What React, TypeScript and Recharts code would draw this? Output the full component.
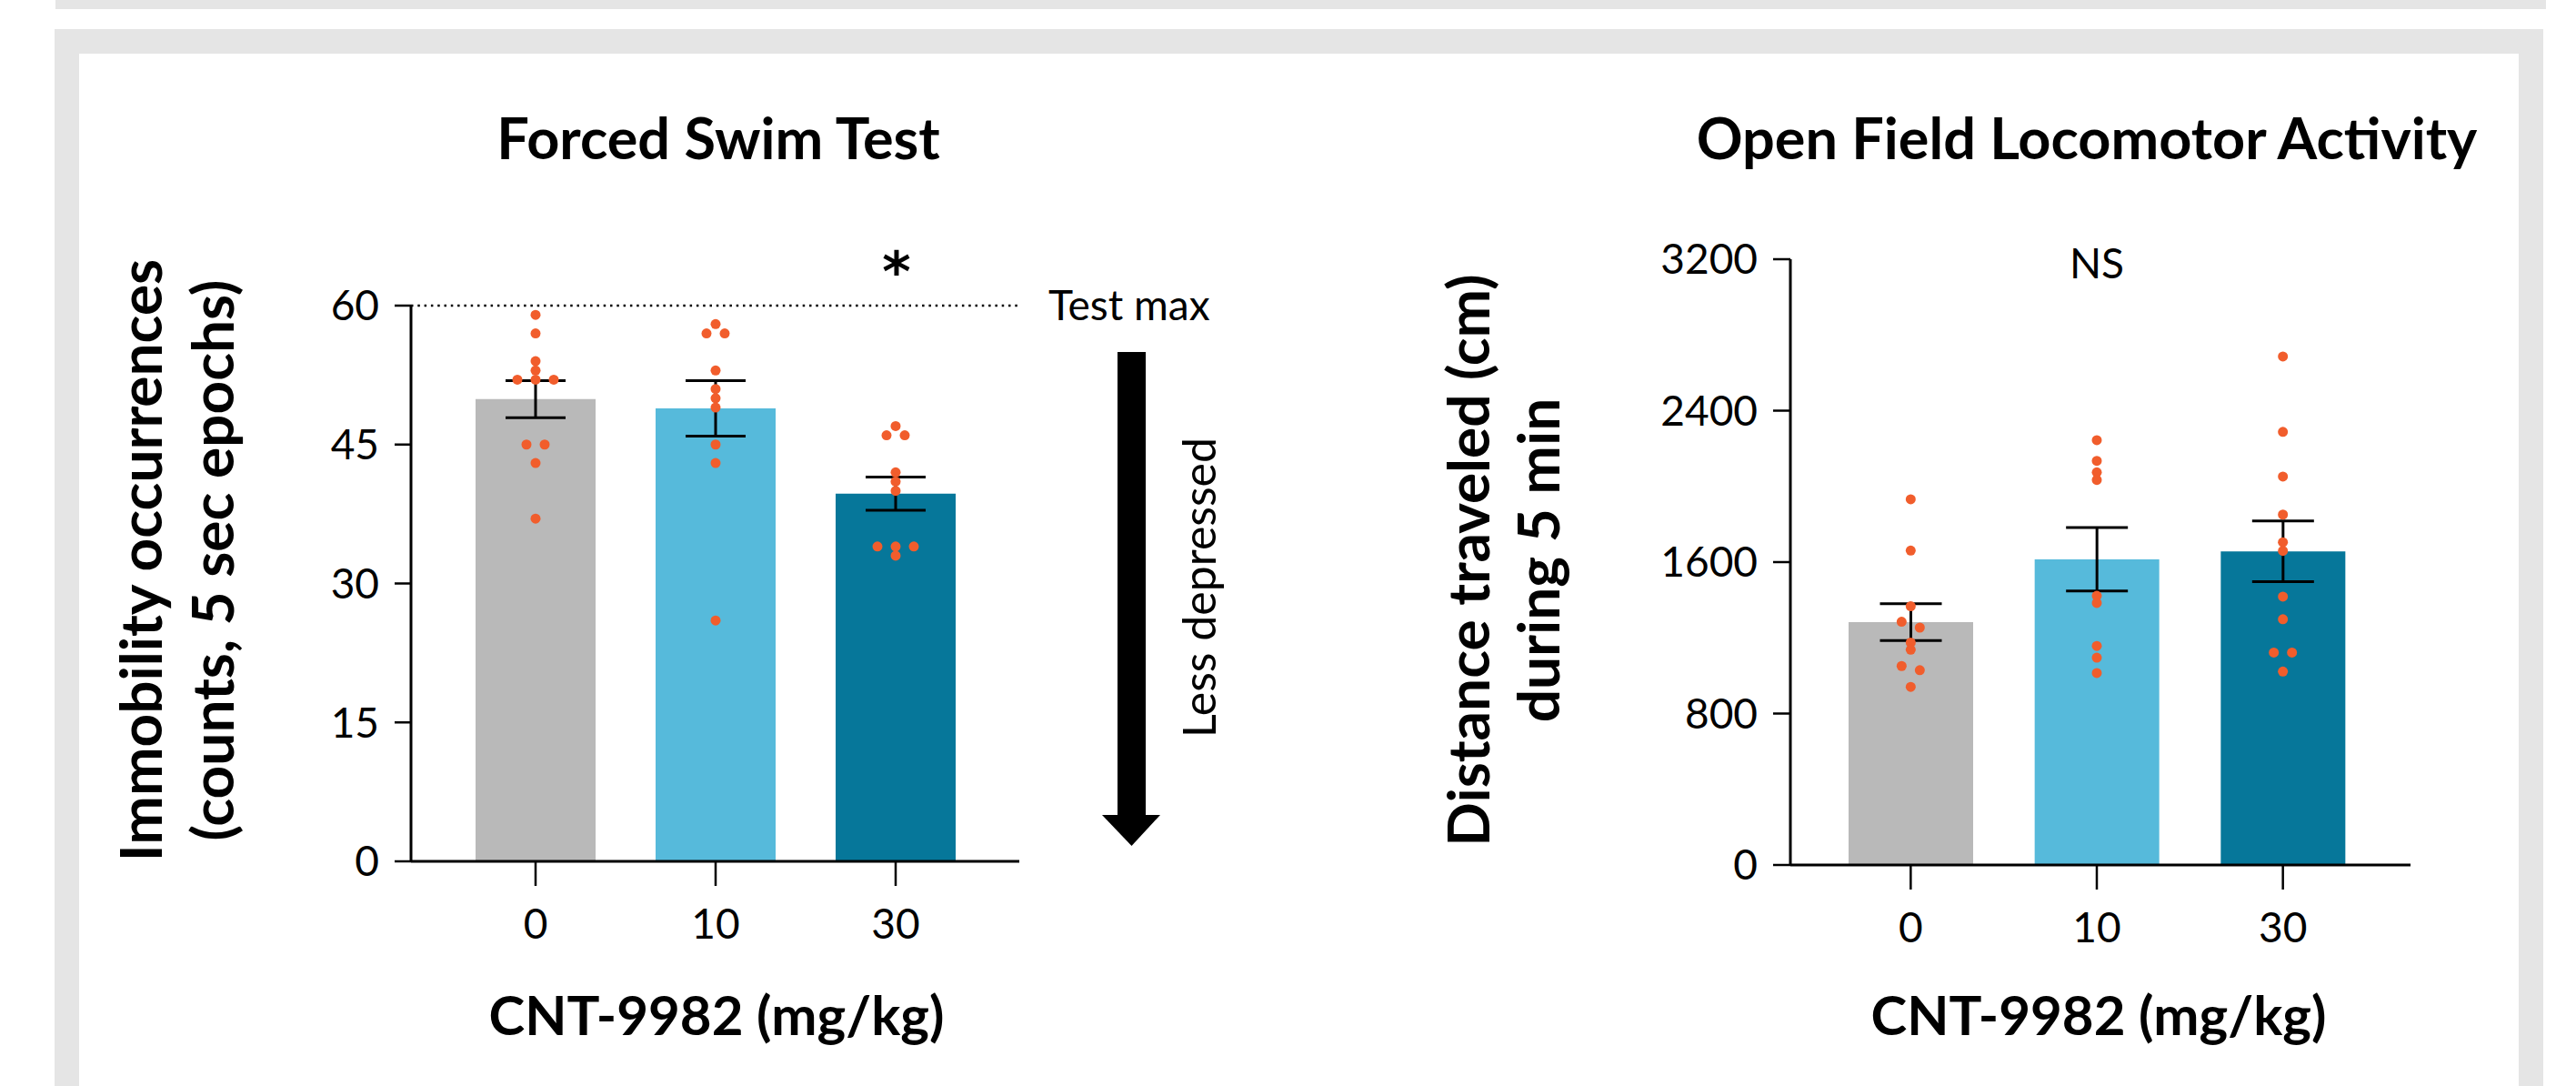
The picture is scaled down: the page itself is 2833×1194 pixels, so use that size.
import React from 'react';
import { ComposedChart, Bar, Cell, ErrorBar, Scatter, XAxis, YAxis, ReferenceLine } from 'recharts';

// dose groups (mg/kg)
const doses = ['0', '10', '30'];
const barColors = ['#B9B9B9', '#56BADB', '#06779A'];
const dotColor = '#F15D2C';

// Forced swim test: immobility counts
const fstMeans = [49.9, 48.9, 39.7];
const fstSem = [2.0, 3.0, 1.8];
const fstPoints = [
  [59, 57, 54, 53, 52, 52, 52, 45, 45, 43, 37],
  [58, 57, 57, 53, 51, 50, 49, 45, 43, 26],
  [47, 46, 46, 42, 41, 40, 34, 34, 34, 33],
];
const fstTicks = [0, 15, 30, 45, 60];

// Open field: distance traveled (cm)
const ofMeans = [1283, 1615, 1657];
const ofSem = [97, 167, 160];
const ofPoints = [
  [1932, 1661, 1367, 1285, 1254, 1175, 1137, 1051, 1029, 941],
  [2244, 2135, 2074, 2034, 1422, 1384, 1157, 1095, 1014],
  [2686, 2288, 2052, 1851, 1705, 1659, 1418, 1298, 1122, 1122, 1022],
];
const ofTicks = [0, 800, 1600, 2400, 3200];

const FONT = 'Lato, "Open Sans", sans-serif';
const DOT_STEP = 20;

function barRows(means: number[], sem: number[]) {
  return doses.map((d, i) => ({ dose: d, value: means[i], sem: sem[i] }));
}

// spread points that would overlap: values closer than `gap` share a row
function scatterRows(groups: number[][], gap: number) {
  const rows: { dose: string; value: number; slot: number }[] = [];
  groups.forEach((vals, g) => {
    const sorted = [...vals].sort((a, b) => b - a);
    let cluster: number[] = [];
    const flush = () => {
      cluster.forEach((v, k) => rows.push({ dose: doses[g], value: v, slot: k - (cluster.length - 1) / 2 }));
      cluster = [];
    };
    sorted.forEach((v) => {
      if (cluster.length && cluster[cluster.length - 1] - v >= gap) flush();
      cluster.push(v);
    });
    flush();
  });
  return rows;
}

const Dot = (p: any) => <circle cx={p.cx + p.payload.slot * DOT_STEP} cy={p.cy} r={5.5} fill={dotColor} />;

interface PanelProps {
  left: number;
  width: number;
  margin: { top: number; right: number; bottom: number; left: number };
  bars: { dose: string; value: number; sem: number }[];
  points: { dose: string; value: number; slot: number }[];
  domain: [number, number];
  ticks: number[];
  barSize: number;
  pad: { left: number; right: number };
  yTickSize: number;
  capHalf: number;
  refMax?: number;
}

function Panel(p: PanelProps) {
  const tickStyle = { fontSize: 46, fill: '#000', fontFamily: FONT };
  return (
    <div style={{ position: 'absolute', left: p.left, top: 0 }}>
      <ComposedChart width={p.width} height={1194} data={p.bars} margin={p.margin}>
        <XAxis
          dataKey="dose"
          type="category"
          allowDuplicatedCategory={false}
          padding={p.pad}
          height={100}
          tick={tickStyle}
          tickSize={27}
          tickMargin={25}
          axisLine={{ stroke: '#000', strokeWidth: 3 }}
          tickLine={{ stroke: '#000', strokeWidth: 2.5 }}
        />
        <YAxis
          type="number"
          width={100}
          domain={p.domain}
          ticks={p.ticks}
          interval={0}
          tick={tickStyle}
          tickSize={p.yTickSize}
          tickMargin={17}
          axisLine={{ stroke: '#000', strokeWidth: 3 }}
          tickLine={{ stroke: '#000', strokeWidth: 2.5 }}
        />
        {p.refMax !== undefined && (
          <ReferenceLine
            y={p.refMax}
            stroke="#000"
            strokeWidth={2.5}
            strokeDasharray="2.5 4.8"
            label={{ value: 'Test max', position: 'right', offset: 32, fontSize: 46, fill: '#000', fontFamily: FONT }}
          />
        )}
        <Bar dataKey="value" barSize={p.barSize} isAnimationActive={false}>
          {p.bars.map((_, i) => (
            <Cell key={i} fill={barColors[i]} />
          ))}
          <ErrorBar dataKey="sem" width={p.capHalf} stroke="#000" strokeWidth={3} direction="y" isAnimationActive={false} />
        </Bar>
        <Scatter data={p.points} dataKey="value" shape={Dot} isAnimationActive={false} />
      </ComposedChart>
    </div>
  );
}

const txt = { fontFamily: FONT, fill: '#000' } as const;

export default function App() {
  return (
    <div style={{ position: 'absolute', left: 0, top: 0, width: 2833, height: 1194, background: '#fff', overflow: 'hidden', fontFamily: FONT }}>
      <div style={{ position: 'absolute', left: 61, top: 0, width: 2739, height: 10, background: '#E5E5E5' }} />
      <div style={{ position: 'absolute', left: 60, top: 32, width: 2737, height: 1200, background: '#E5E5E5' }} />
      <div style={{ position: 'absolute', left: 87, top: 59, width: 2683, height: 1200, background: '#fff' }} />

      <Panel
        left={0}
        width={1400}
        margin={{ top: 336, right: 279, bottom: 147, left: 352 }}
        bars={barRows(fstMeans, fstSem)}
        points={scatterRows(fstPoints, 0.5)}
        domain={[0, 60]}
        ticks={fstTicks}
        barSize={132}
        pad={{ left: 38, right: 37 }}
        yTickSize={18}
        capHalf={33}
        refMax={60}
      />
      <Panel
        left={1500}
        width={1300}
        margin={{ top: 285, right: 149, bottom: 143, left: 369 }}
        bars={barRows(ofMeans, ofSem)}
        points={scatterRows(ofPoints, 35)}
        domain={[0, 3200]}
        ticks={ofTicks}
        barSize={137}
        pad={{ left: 30, right: 38 }}
        yTickSize={19}
        capHalf={34}
      />

      <svg width={2833} height={1194} style={{ position: 'absolute', left: 0, top: 0, pointerEvents: 'none' }}>
        <text x={790} y={175} textAnchor="middle" fontSize={63} fontWeight={700} {...txt}>Forced Swim Test</text>
        <text x={2295} y={175} textAnchor="middle" fontSize={63} fontWeight={700} {...txt}>Open Field Locomotor Activity</text>

        <text x={178} y={616} textAnchor="middle" fontSize={64} fontWeight={700} transform="rotate(-90 178 616)" {...txt}>Immobility occurrences</text>
        <text x={257} y={616} textAnchor="middle" fontSize={64} fontWeight={700} transform="rotate(-90 257 616)" {...txt}>(counts, 5 sec epochs)</text>
        <text x={1638} y={616} textAnchor="middle" fontSize={64} fontWeight={700} transform="rotate(-90 1638 616)" {...txt}>Distance traveled (cm)</text>
        <text x={1715} y={616} textAnchor="middle" fontSize={64} fontWeight={700} transform="rotate(-90 1715 616)" {...txt}>during 5 min</text>

        <text x={788} y={1138} textAnchor="middle" fontSize={60} fontWeight={700} {...txt}>CNT-9982 (mg/kg)</text>
        <text x={2308} y={1138} textAnchor="middle" fontSize={60} fontWeight={700} {...txt}>CNT-9982 (mg/kg)</text>

        <text x={986} y={320} textAnchor="middle" fontSize={60} fontWeight={700} fontFamily='"DejaVu Sans", sans-serif' fill="#000">*</text>
        <text x={2306} y={306} textAnchor="middle" fontSize={46} {...txt}>NS</text>

        <rect x={1229} y={387} width={31} height={510} fill="#000" />
        <polygon points="1212,896 1276,896 1244.5,930" fill="#000" />
        <text x={1337} y={646} textAnchor="middle" fontSize={50} transform="rotate(-90 1337 646)" {...txt}>Less depressed</text>
      </svg>
    </div>
  );
}
